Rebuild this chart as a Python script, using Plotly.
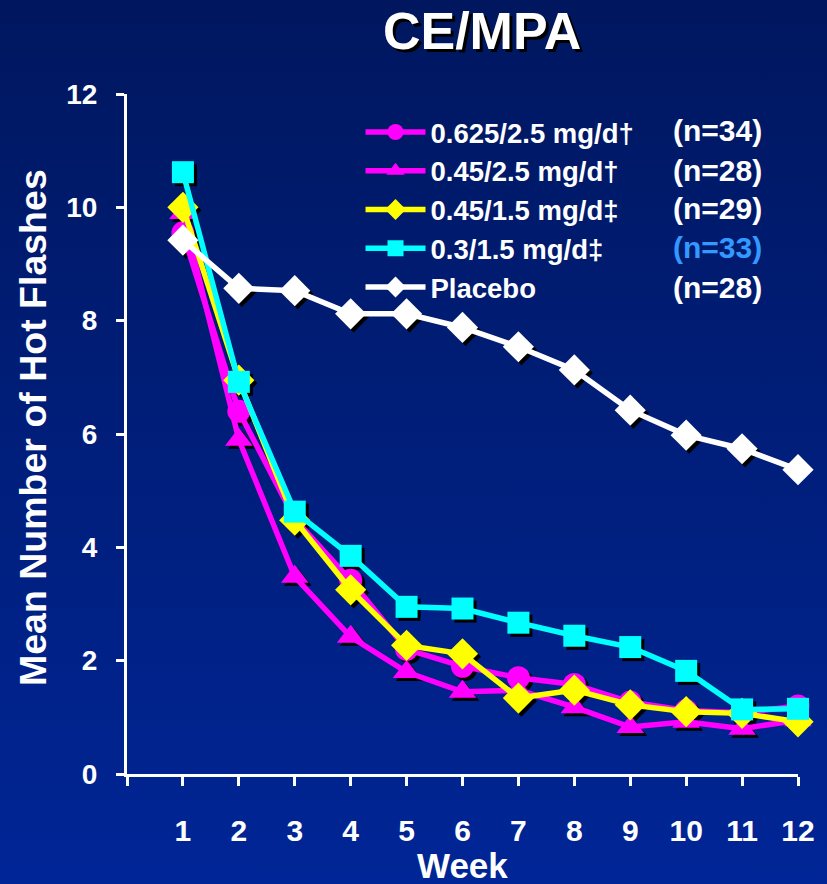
import base64
import plotly.graph_objects as go

# Weekly mean number of hot flashes per treatment group
weeks = [1, 2, 3, 4, 5, 6, 7, 8, 9, 10, 11, 12]
ce625_mpa25 = [9.55, 6.40, 4.50, 3.42, 2.20, 1.90, 1.70, 1.58, 1.27, 1.12, 1.08, 1.20]
ce45_mpa25 = [9.90, 5.90, 3.48, 2.42, 1.80, 1.45, 1.48, 1.18, 0.83, 0.92, 0.80, 0.95]
ce45_mpa15 = [10.00, 6.95, 4.48, 3.25, 2.27, 2.12, 1.34, 1.48, 1.22, 1.10, 1.07, 0.92]
ce3_mpa15 = [10.62, 6.92, 4.63, 3.85, 2.95, 2.92, 2.67, 2.44, 2.24, 1.82, 1.14, 1.15]
placebo = [9.42, 8.57, 8.53, 8.12, 8.12, 7.88, 7.54, 7.13, 6.42, 5.98, 5.74, 5.37]

group_names = ["0.625/2.5 mg/d\u2020", "0.45/2.5 mg/d\u2020", "0.45/1.5 mg/d\u2021",
               "0.3/1.5 mg/d\u2021", "Placebo"]
group_n = ["(n=34)", "(n=28)", "(n=29)", "(n=33)", "(n=28)"]
n_colors = ["white", "white", "white", "#3399ff", "white"]
series = [ce625_mpa25, ce45_mpa25, ce45_mpa15, ce3_mpa15, placebo]
colors = ["#ff00ff", "#ff00ff", "#ffff00", "#00ffff", "#ffffff"]
symbols = ["circle", "triangle-up", "diamond", "square", "diamond"]
sizes = [23, 24, 24, 22, 24]

x_ticks = list(range(0, 13))
x_labels = [""] + [str(w) for w in weeks]
y_ticks = [0, 2, 4, 6, 8, 10, 12]

FONT = "Liberation Sans, Arial, sans-serif"
W, H = 827, 884
L, R, T, B = 127, 29, 94, 110
plot_w, plot_h = W - L - R, H - T - B

# drop-shadow offset in pixels, converted to axis units
shadow_px = 3
dx = shadow_px * 12 / plot_w
dy = shadow_px * 12 / plot_h

fig = go.Figure()

# black marker shadows live on the hidden base axes, shifted by a few pixels
for vals, sym, sz in zip(series, symbols, sizes):
    fig.add_trace(go.Scatter(
        x=weeks, y=vals, mode="markers", xaxis="x", yaxis="y",
        marker=dict(symbol=sym, size=sz, color="black", line=dict(width=0)),
        showlegend=False, hoverinfo="skip", cliponaxis=False,
    ))

# visible series on the overlaid axes
for name, vals, col, sym, sz in zip(group_names, series, colors, symbols, sizes):
    fig.add_trace(go.Scatter(
        x=weeks, y=vals, name=name, mode="lines+markers", xaxis="x2", yaxis="y2",
        line=dict(color=col, width=5.5),
        marker=dict(symbol=sym, size=sz, color=col, line=dict(width=0)),
        cliponaxis=False,
    ))

# vertical navy gradient behind everything
svg = ('<svg xmlns="http://www.w3.org/2000/svg" width="10" height="100" viewBox="0 0 10 100" '
       'preserveAspectRatio="none"><defs><linearGradient id="g" x1="0" y1="0" x2="0" y2="1">'
       '<stop offset="0" stop-color="#00175f"/><stop offset="0.5" stop-color="#001e7a"/>'
       '<stop offset="1" stop-color="#002596"/></linearGradient></defs>'
       '<rect width="10" height="100" fill="url(#g)"/></svg>')
bg_src = "data:image/svg+xml;base64," + base64.b64encode(svg.encode()).decode()

fig.update_layout(
    width=W, height=H,
    margin=dict(l=L, r=R, t=T, b=B),
    paper_bgcolor="#001e7a",
    plot_bgcolor="rgba(0,0,0,0)",
    images=[dict(source=bg_src, xref="paper", yref="paper",
                 x=-L / plot_w, y=1 + T / plot_h, sizex=W / plot_w, sizey=H / plot_h,
                 xanchor="left", yanchor="top", sizing="stretch", layer="below")],
    title=dict(text="CE/MPA", x=0.583, xanchor="center", y=1 - 31 / H, yanchor="middle",
               font=dict(family=FONT, size=52, color="white", weight="bold",
                         shadow="3px 3px 0px black")),
    xaxis=dict(range=[0 - dx, 12 - dx], visible=False, fixedrange=True),
    yaxis=dict(range=[0 + dy, 12 + dy], visible=False, fixedrange=True),
    xaxis2=dict(range=[0, 12], overlaying="x", side="bottom", anchor="y2",
                tickmode="array", tickvals=x_ticks, ticktext=x_labels,
                ticks="outside", ticklen=9, tickwidth=3, tickcolor="white",
                showline=True, linewidth=3, linecolor="white", showgrid=False,
                zeroline=False, tickfont=dict(family=FONT, size=30, color="white", weight="bold"),
                ticklabelstandoff=19),
    yaxis2=dict(range=[0, 12], overlaying="y", side="left", anchor="x2",
                tickmode="array", tickvals=y_ticks,
                ticks="outside", ticklen=8, tickwidth=3, tickcolor="white",
                showline=True, linewidth=3, linecolor="white", showgrid=False,
                zeroline=False, tickfont=dict(family=FONT, size=28, color="white", weight="bold"),
                ticklabelstandoff=13),
    legend=dict(x=0.348, xanchor="left", y=0.98, yanchor="top",
                bgcolor="rgba(0,0,0,0)", itemwidth=60,
                font=dict(family=FONT, size=27.5, color="white", weight="bold"),
                tracegroupgap=0),
    showlegend=True,
)

# axis titles
fig.add_annotation(text="Week", xref="paper", yref="paper", x=(462 - L) / plot_w,
                   y=-(865 - (H - B)) / plot_h, xanchor="center", yanchor="middle",
                   showarrow=False, font=dict(family=FONT, size=35, color="white", weight="bold"))
fig.add_annotation(text="Mean Number of Hot Flashes", xref="paper", yref="paper",
                   x=(33 - L) / plot_w, y=(H - B - 428) / plot_h, textangle=-90,
                   xanchor="center", yanchor="middle", showarrow=False,
                   font=dict(family=FONT, size=37.5, color="white", weight="bold"))

# group sizes beside the legend rows
row_px = [130, 170, 209, 248, 287]
for txt, col, py in zip(group_n, n_colors, row_px):
    fig.add_annotation(text=txt, xref="paper", yref="paper", x=(764 - L) / plot_w,
                       y=(H - B - py) / plot_h, xanchor="right", yanchor="middle",
                       showarrow=False, font=dict(family=FONT, size=30, color=col, weight="bold"))

fig.write_html("out.html")
